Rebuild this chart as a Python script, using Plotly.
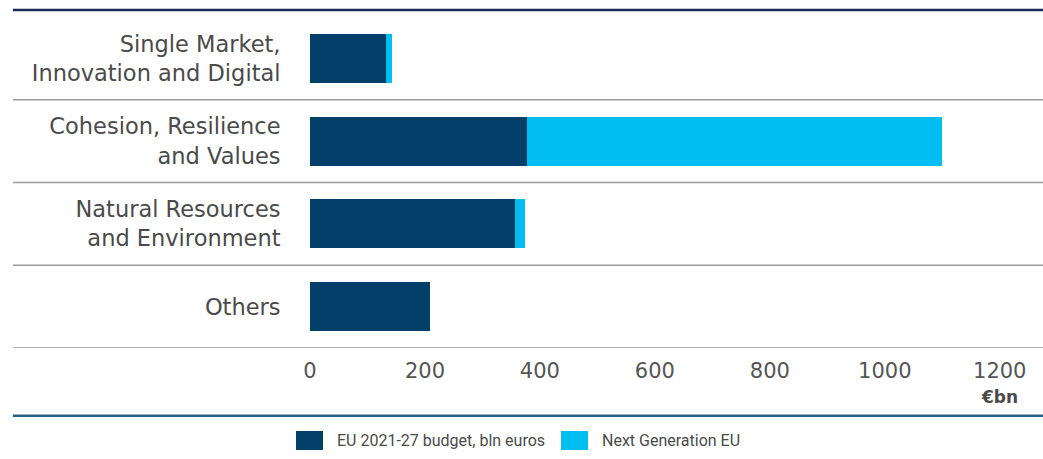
import plotly.graph_objects as go

# --------------------------------------------------
# Data (EUR bn)
# --------------------------------------------------

categories = [
    "Single Market,<br>Innovation and Digital",
    "Cohesion, Resilience<br>and Values",
    "Natural Resources<br>and Environment",
    "Others",
]

mff_values = [132.8, 377.8, 356.4, 208.0]
ngeu_values = [10.6, 721.9, 17.5, 0.0]

series_names = ["EU 2021-27 budget, bln euros", "Next Generation EU"]
series_colors = ["#023f69", "#00bdf2"]

x_ticks = [0, 200, 400, 600, 800, 1000, 1200]

# --------------------------------------------------
# Bars
# --------------------------------------------------

fig = go.Figure()

for name, values, color in zip(series_names, [mff_values, ngeu_values], series_colors):
    fig.add_trace(
        go.Bar(
            y=categories,
            x=values,
            orientation="h",
            name=name,
            marker=dict(color=color, line=dict(width=0)),
            showlegend=False,
        )
    )

# --------------------------------------------------
# Separator lines
# --------------------------------------------------

shapes = []

for i in range(len(categories)):
    shapes.append(
        dict(
            type="line",
            xref="paper",
            yref="y",
            x0=-0.407,
            x1=1.01,
            y0=i + 0.5,
            y1=i + 0.5,
            line=dict(color="#9a9a9a", width=1.5),
        )
    )

# top and bottom rules
shapes.append(
    dict(type="line", xref="paper", yref="paper", x0=-0.407, x1=1.01,
         y0=1.021, y1=1.021, line=dict(color="#1b2b58", width=2.5))
)
shapes.append(
    dict(type="line", xref="paper", yref="paper", x0=-0.407, x1=1.01,
         y0=-0.205, y1=-0.205, line=dict(color="#2d5f86", width=2.5))
)

# --------------------------------------------------
# Custom legend
# --------------------------------------------------

annotations = []

legend_x = [(-0.0192, 0.0178, 0.0342), (0.3438, 0.3808, 0.3973)]

for (sx0, sx1, tx), name, color in zip(legend_x, series_names, series_colors):
    shapes.append(
        dict(type="rect", xref="paper", yref="paper", x0=sx0, x1=sx1,
             y0=-0.3082, y1=-0.2508, fillcolor=color, line=dict(width=0))
    )
    annotations.append(
        dict(xref="paper", yref="paper", x=tx, y=-0.2795, text=name,
             showarrow=False, xanchor="left", yanchor="middle",
             font=dict(family="Roboto, sans-serif", size=16, color="#4a4a4a"))
    )

annotations.append(
    dict(xref="x", yref="paper", x=1200, y=-0.148, text="<b>€bn</b>",
         showarrow=False, xanchor="center", yanchor="middle",
         font=dict(family="DejaVu Sans", size=17, color="#4a4a4a"))
)

# --------------------------------------------------
# Layout
# --------------------------------------------------

fig.update_layout(
    barmode="stack",
    bargap=0.408,
    width=1043,
    height=459,
    paper_bgcolor="white",
    plot_bgcolor="white",
    margin=dict(l=310, r=3, t=17, b=111),
    font=dict(family="DejaVu Sans", color="#4a4a4a"),
    shapes=shapes,
    annotations=annotations,
    showlegend=False,
)

fig.update_xaxes(
    range=[0, 1270],
    tickvals=x_ticks,
    ticktext=[str(t) for t in x_ticks],
    showgrid=False,
    zeroline=False,
    showline=False,
    ticks="outside",
    ticklen=4,
    tickcolor="rgba(0,0,0,0)",
    tickfont=dict(size=21, color="#555555"),
)

fig.update_yaxes(
    categoryorder="array",
    categoryarray=categories,
    range=[len(categories) - 0.5, -0.5],
    showgrid=False,
    zeroline=False,
    showline=False,
    ticks="outside",
    ticklen=24,
    tickcolor="rgba(0,0,0,0)",
    tickfont=dict(size=22.5, color="#4a4a4a"),
)

fig.write_html(
    "out.html",
    config={"displayModeBar": False},
    post_script="document.body.style.margin='0px';",
)
